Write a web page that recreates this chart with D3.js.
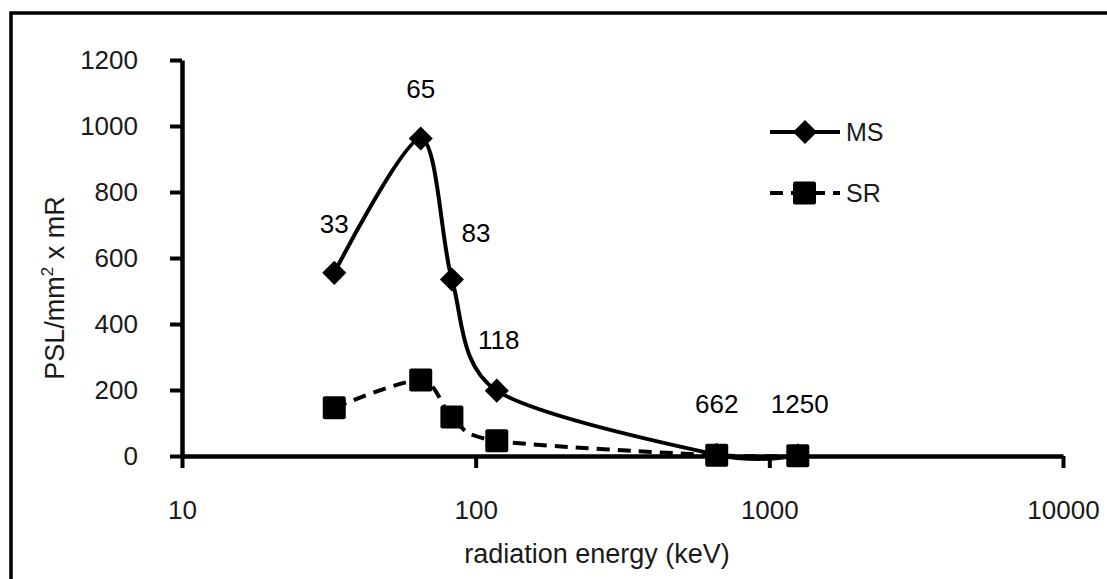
<!DOCTYPE html>
<html>
<head>
<script src="https://cdn.jsdelivr.net/npm/d3@7"></script>
<style>
  body { margin: 0; background: #fff; }
  text { font-family: "Liberation Sans", Arial, sans-serif; }
</style>
</head>
<body>
<script>
  var w = 1107;
  var h = 579;

  // data
  var energies = [33, 65, 83, 118, 662, 1250];
  var energyLabels = ["33", "65", "83", "118", "662", "1250"];
  var msValues = [555, 962, 535, 198, 4, 2];
  var srValues = [146, 230, 118, 46, 2, 1];
  var xTicks = [10, 100, 1000, 10000];
  var yTicks = [0, 200, 400, 600, 800, 1000, 1200];

  var svg = d3.select("body").append("svg")
    .attr("width", w)
    .attr("height", h);

  // outer frame (right and bottom edges are cut off in the original)
  svg.append("rect")
    .attr("x", 11).attr("y", 13)
    .attr("width", w + 20).attr("height", h + 20)
    .attr("fill", "none")
    .attr("stroke", "#000")
    .attr("stroke-width", 3.5);

  var x = d3.scaleLog().domain([10, 10000]).range([182, 1063]);
  var y = d3.scaleLinear().domain([0, 1200]).range([456, 60]);

  var xAxis = d3.axisBottom(x).tickValues(xTicks).tickFormat(d3.format("d"))
    .tickSize(12).tickSizeOuter(0).tickPadding(33);
  var yAxis = d3.axisLeft(y).tickValues(yTicks).tickFormat(d3.format("d"))
    .tickSize(12).tickSizeOuter(0).tickPadding(32);

  svg.append("g")
    .attr("transform", "translate(0," + y(0) + ")")
    .call(xAxis)
    .call(function (g) {
      g.select(".domain").attr("stroke-width", 4.5);
      g.selectAll(".tick line").attr("stroke-width", 4);
      g.selectAll(".tick text").attr("font-size", 26).attr("fill", "#1a1a1a");
    });

  svg.append("g")
    .attr("transform", "translate(" + x(10) + ",0)")
    .call(yAxis)
    .call(function (g) {
      g.select(".domain").attr("stroke-width", 4.5);
      g.selectAll(".tick line").attr("stroke-width", 4);
      g.selectAll(".tick text").attr("font-size", 26).attr("fill", "#1a1a1a");
    });

  // axis titles
  svg.append("text")
    .attr("x", 597).attr("y", 563)
    .attr("text-anchor", "middle")
    .attr("font-size", 27).attr("fill", "#1a1a1a")
    .text("radiation energy (keV)");

  var yTitle = svg.append("text")
    .attr("transform", "translate(64,288) rotate(-90)")
    .attr("text-anchor", "middle")
    .attr("font-size", 27).attr("fill", "#1a1a1a");
  yTitle.append("tspan").text("PSL/mm");
  yTitle.append("tspan").attr("font-size", 17).attr("dy", -11).text("2");
  yTitle.append("tspan").attr("dy", 11).text(" x mR");

  var msData = energies.map(function (e, i) { return [e, msValues[i]]; });
  var srData = energies.map(function (e, i) { return [e, srValues[i]]; });

  var line = d3.line()
    .x(function (d) { return x(d[0]); })
    .y(function (d) { return y(d[1]); })
    .curve(d3.curveCardinal.tension(0.15));

  svg.append("path")
    .datum(srData)
    .attr("fill", "none")
    .attr("stroke", "#000")
    .attr("stroke-width", 4)
    .attr("stroke-dasharray", "13,8")
    .attr("d", line);

  svg.append("path")
    .datum(msData)
    .attr("fill", "none")
    .attr("stroke", "#000")
    .attr("stroke-width", 4)
    .attr("d", line);

  var diamond = d3.symbol().type(d3.symbolSquare).size(290);

  svg.selectAll(".ms-pt").data(msData).enter().append("path")
    .attr("class", "ms-pt")
    .attr("d", diamond)
    .attr("fill", "#000")
    .attr("transform", function (d) {
      return "translate(" + x(d[0]) + "," + y(d[1]) + ") rotate(45)";
    });

  svg.selectAll(".sr-pt").data(srData).enter().append("rect")
    .attr("class", "sr-pt")
    .attr("x", function (d) { return x(d[0]) - 11.5; })
    .attr("y", function (d) { return y(d[1]) - 11.5; })
    .attr("width", 23).attr("height", 23)
    .attr("rx", 2)
    .attr("fill", "#000");

  // energy labels above the MS points
  var labelDx = [0, 0, 24, 2, 0, 2];
  var labelDy = [-40, -41, -37, -42, -42, -42];
  svg.selectAll(".elab").data(msData).enter().append("text")
    .attr("class", "elab")
    .attr("x", function (d, i) { return x(d[0]) + labelDx[i]; })
    .attr("y", function (d, i) { return y(d[1]) + labelDy[i]; })
    .attr("text-anchor", "middle")
    .attr("font-size", 26)
    .attr("fill", "#000")
    .text(function (d, i) { return energyLabels[i]; });

  // legend
  var leg = svg.append("g");
  leg.append("line")
    .attr("x1", 770).attr("x2", 840).attr("y1", 132).attr("y2", 132)
    .attr("stroke", "#000").attr("stroke-width", 4);
  leg.append("path")
    .attr("d", diamond)
    .attr("transform", "translate(805,132) rotate(45)")
    .attr("fill", "#000");
  leg.append("text")
    .attr("x", 846).attr("y", 141)
    .attr("font-size", 25).attr("fill", "#1a1a1a")
    .text("MS");

  leg.append("line")
    .attr("x1", 770).attr("x2", 840).attr("y1", 193).attr("y2", 193)
    .attr("stroke", "#000").attr("stroke-width", 4)
    .attr("stroke-dasharray", "13,8");
  leg.append("rect")
    .attr("x", 793).attr("y", 181.5).attr("width", 23).attr("height", 23)
    .attr("rx", 2)
    .attr("fill", "#000");
  leg.append("text")
    .attr("x", 846).attr("y", 202)
    .attr("font-size", 25).attr("fill", "#1a1a1a")
    .text("SR");
</script>
</body>
</html>
